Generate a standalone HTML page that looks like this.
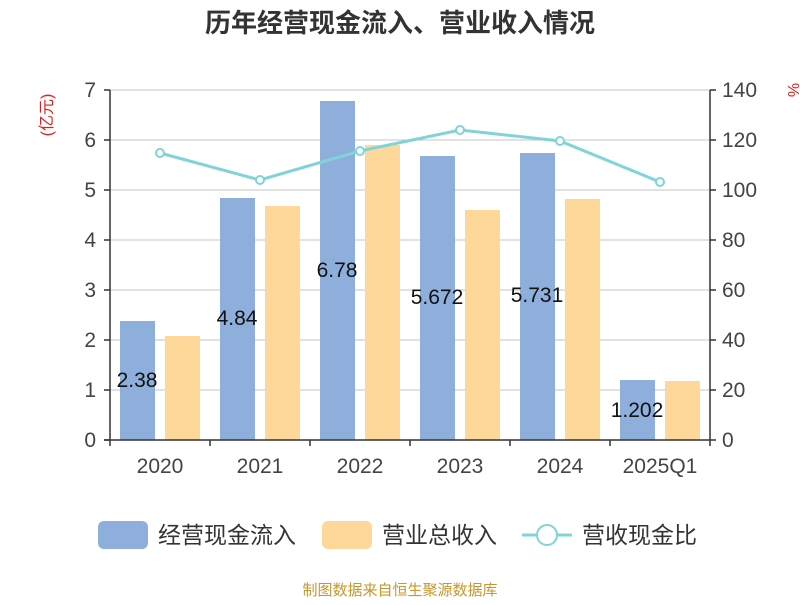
<!DOCTYPE html>
<html><head><meta charset="utf-8"><style>body{margin:0;background:#fff}</style></head><body>
<svg width="800" height="600" xmlns="http://www.w3.org/2000/svg" font-family="Liberation Sans, Noto Sans CJK SC, sans-serif">
<text x="400" y="32" text-anchor="middle" font-size="26" font-weight="bold" fill="#333">历年经营现金流入、营业收入情况</text>
<g stroke="#c4c4c4" stroke-width="1">
<line x1="110" y1="390" x2="710" y2="390"/><line x1="110" y1="340" x2="710" y2="340"/><line x1="110" y1="290" x2="710" y2="290"/><line x1="110" y1="240" x2="710" y2="240"/><line x1="110" y1="190" x2="710" y2="190"/><line x1="110" y1="140" x2="710" y2="140"/><line x1="110" y1="90" x2="710" y2="90"/>
</g>
<g fill="#8eaedb">
<rect x="120" y="321" width="35" height="119"/><rect x="220" y="198" width="35" height="242"/><rect x="320" y="101" width="35" height="339"/><rect x="420" y="156" width="35" height="284"/><rect x="520" y="153" width="35" height="287"/><rect x="620" y="380" width="35" height="60"/>
</g>
<g fill="#fed899">
<rect x="165" y="336" width="35" height="104"/><rect x="265" y="206" width="35" height="234"/><rect x="365" y="145" width="35" height="295"/><rect x="465" y="210" width="35" height="230"/><rect x="565" y="199" width="35" height="241"/><rect x="665" y="381" width="35" height="59"/>
</g>
<g stroke="#333" stroke-width="1.5" fill="none">
<line x1="110" y1="90" x2="110" y2="446"/><line x1="710" y1="90" x2="710" y2="440"/><line x1="104" y1="440" x2="716" y2="440"/>
<path d="M104 90h6M104 140h6M104 190h6M104 240h6M104 290h6M104 340h6M104 390h6M104 440h6M710 90h6M710 140h6M710 190h6M710 240h6M710 290h6M710 340h6M710 390h6M210 440v6M310 440v6M410 440v6M510 440v6M610 440v6M710 440v6"/>
</g>
<g font-size="21" fill="#444" text-anchor="end">
<text x="96" y="447">0</text><text x="96" y="397">1</text><text x="96" y="347">2</text><text x="96" y="297">3</text><text x="96" y="247">4</text><text x="96" y="197">5</text><text x="96" y="147">6</text><text x="96" y="97">7</text>
</g>
<g font-size="21" fill="#444" text-anchor="start">
<text x="722" y="447">0</text><text x="722" y="397">20</text><text x="722" y="347">40</text><text x="722" y="297">60</text><text x="722" y="247">80</text><text x="722" y="197">100</text><text x="722" y="147">120</text><text x="722" y="97">140</text>
</g>
<text x="52" y="115" font-size="16" fill="#e02020" text-anchor="middle" transform="rotate(-90 52 115)">(亿元)</text>
<text x="788" y="90" font-size="16" fill="#e02020" text-anchor="middle" transform="rotate(90 788 90)">%</text>
<g font-size="21" fill="#444" text-anchor="middle">
<text x="160" y="473">2020</text><text x="260" y="473">2021</text><text x="360" y="473">2022</text><text x="460" y="473">2023</text><text x="560" y="473">2024</text><text x="660" y="473">2025Q1</text>
</g>
<g font-size="21" fill="#111" text-anchor="middle">
<text x="137" y="387">2.38</text><text x="237" y="325">4.84</text><text x="337" y="277">6.78</text><text x="437" y="304">5.672</text><text x="537" y="302">5.731</text><text x="637" y="417">1.202</text>
</g>
<polyline points="160,153 260,180 360,151 460,130 560,141 660,182" fill="none" stroke="#80d4d8" stroke-width="3"/>
<g fill="#fff" stroke="#80d4d8" stroke-width="2">
<circle cx="160" cy="153" r="4"/><circle cx="260" cy="180" r="4"/><circle cx="360" cy="151" r="4"/><circle cx="460" cy="130" r="4"/><circle cx="560" cy="141" r="4"/><circle cx="660" cy="182" r="4"/>
</g>
<rect x="98" y="521" width="50" height="28" rx="6" fill="#8eaedb"/>
<text x="158" y="543" font-size="23" fill="#333">经营现金流入</text>
<rect x="322" y="521" width="50" height="28" rx="6" fill="#fed899"/>
<text x="382" y="543" font-size="23" fill="#333">营业总收入</text>
<line x1="522" y1="535" x2="572" y2="535" stroke="#80d4d8" stroke-width="3"/>
<circle cx="547" cy="535" r="10" fill="#fff" stroke="#80d4d8" stroke-width="2"/>
<text x="582" y="543" font-size="23" fill="#333">营收现金比</text>
<text x="400" y="595" font-size="15" fill="#c8962a" text-anchor="middle">制图数据来自恒生聚源数据库</text>
</svg>
</body></html>
